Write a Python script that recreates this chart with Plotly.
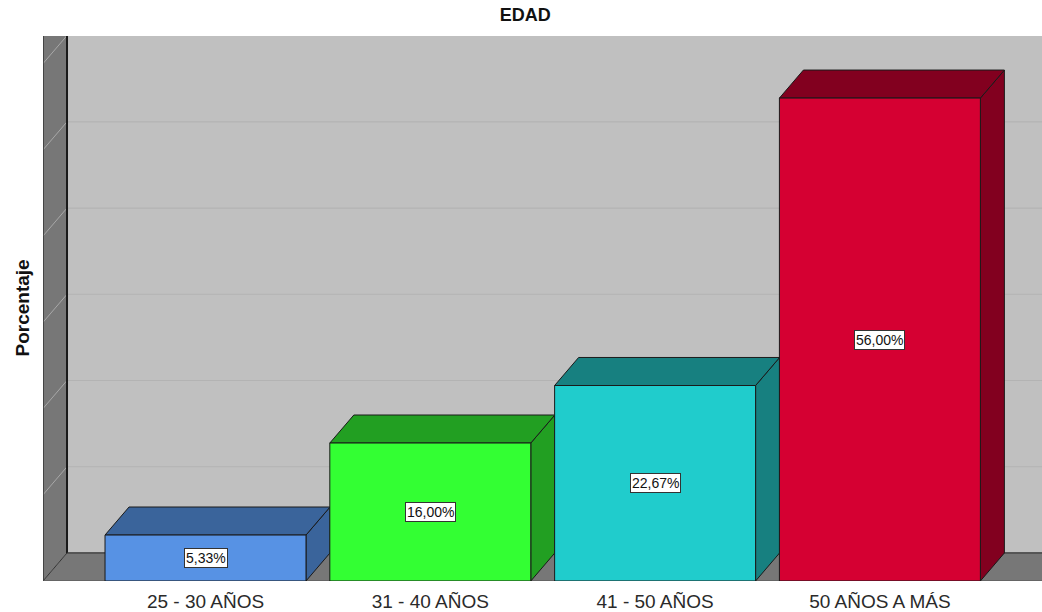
import plotly.graph_objects as go

# ---- data ----
categories = ["25 - 30 AÑOS", "31 - 40 AÑOS", "41 - 50 AÑOS", "50 AÑOS A MÁS"]
percentages = [5.33, 16.00, 22.67, 56.00]
value_labels = ["5,33%", "16,00%", "22,67%", "56,00%"]
front_colors = ["#5792E4", "#33FF33", "#20CCCC", "#D50032"]
dark_colors = ["#3A649B", "#229F22", "#178080", "#82001F"]
grid_values = [10, 20, 30, 40, 50, 60]

# ---- 3D geometry (axis units) ----
X_MIN, X_MAX = -0.7229, 3.7211
Y_MAX = 63.2
DX = 0.1068      # depth offset along x (categories)
DY = 3.25        # depth offset along y (percent)
HW = 0.447       # half bar width

FONT = "Liberation Sans, Arial, sans-serif"

fig = go.Figure()


def poly(xs, ys, fill, line, width=1.0):
    fig.add_trace(go.Scatter(
        x=list(xs) + [xs[0]], y=list(ys) + [ys[0]],
        mode="lines", fill="toself", fillcolor=fill,
        line=dict(color=line, width=width),
        hoverinfo="skip", showlegend=False))


def seg(xs, ys, color, width=1.0):
    fig.add_trace(go.Scatter(
        x=xs, y=ys, mode="lines", line=dict(color=color, width=width),
        hoverinfo="skip", showlegend=False))


# back wall
poly([X_MIN + DX, X_MAX, X_MAX, X_MIN + DX], [DY, DY, Y_MAX + 1, Y_MAX + 1],
     "#C0C0C0", "#C0C0C0", 0)
# side wall
poly([X_MIN, X_MIN + DX, X_MIN + DX, X_MIN], [0, DY, Y_MAX + 1, Y_MAX + 1],
     "#777777", "#777777", 0)
# floor
poly([X_MIN, X_MIN + DX, X_MAX + 0.05, X_MAX + 0.05], [0, DY, DY, 0],
     "#777777", "#777777", 0)

# gridlines on back wall and side wall
for g in grid_values:
    if g + DY < Y_MAX:
        seg([X_MIN + DX, X_MAX], [g + DY, g + DY], "#B3B3B3", 1.2)
    seg([X_MIN + DX, X_MIN], [g + DY, g], "#A8A8A8", 1)

# wall edges
seg([X_MIN + DX, X_MIN + DX], [DY, Y_MAX + 1], "#1A1A1A", 2)
seg([X_MIN, X_MIN], [0, Y_MAX + 1], "#333333", 1.5)
seg([X_MIN + DX, X_MAX], [DY, DY], "#333333", 1.2)
seg([X_MIN + DX, X_MIN], [DY, 0], "#333333", 1)
seg([X_MIN, X_MAX], [0, 0], "#555555", 1)

# bars
for i, v in enumerate(percentages):
    fc, dc = front_colors[i], dark_colors[i]
    poly([i + HW, i + HW + DX, i + HW + DX, i + HW], [0, DY, v + DY, v], dc, "#1A1A1A", 1)
    poly([i - HW, i - HW + DX, i + HW + DX, i + HW], [v, v + DY, v + DY, v], dc, "#1A1A1A", 1)
    poly([i - HW, i + HW, i + HW, i - HW], [0, 0, v, v], fc, "#1A1A1A", 1)
    fig.add_annotation(x=i, y=v / 2, xref="x", yref="y", text=value_labels[i],
                       showarrow=False, bgcolor="white", bordercolor="#333333",
                       borderwidth=1, borderpad=1,
                       font=dict(family=FONT, size=14, color="#111111"))

fig.add_annotation(text="<b>Porcentaje</b>", xref="paper", yref="paper",
                   x=-0.021, y=0.50, xanchor="center", yanchor="middle",
                   textangle=-90, showarrow=False,
                   font=dict(family=FONT, size=19, color="#111111"))

fig.update_layout(
    width=1042, height=612,
    margin=dict(l=43, r=0, t=36, b=31),
    paper_bgcolor="white", plot_bgcolor="white",
    title=dict(text="<b>EDAD</b>", x=0.504, xref="container", xanchor="center",
               y=1 - 15 / 612, yref="container", yanchor="middle",
               font=dict(family=FONT, size=18, color="#111111")),
    xaxis=dict(range=[X_MIN, X_MAX], tickvals=list(range(len(categories))),
               ticktext=categories, showgrid=False, zeroline=False,
               showline=False, ticks="outside", ticklen=3,
               tickcolor="rgba(0,0,0,0)",
               tickfont=dict(family=FONT, size=19, color="#2A2A2A"),
               fixedrange=True),
    yaxis=dict(range=[0, Y_MAX], showgrid=False, zeroline=False,
               showticklabels=False, showline=False, fixedrange=True),
    font=dict(family=FONT),
)

fig.write_html("out.html")
